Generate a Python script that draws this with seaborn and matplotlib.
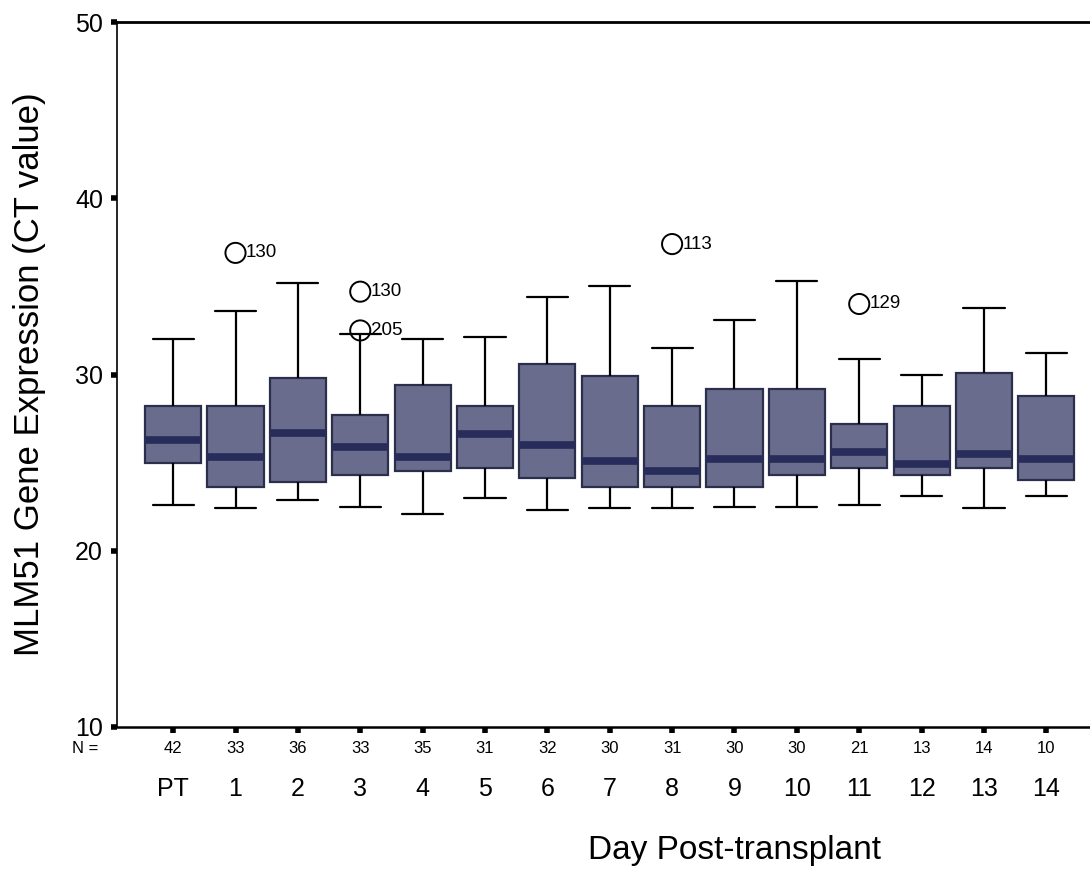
import numpy as np
import pandas as pd
import matplotlib
matplotlib.use("Agg")
import matplotlib.pyplot as plt
import seaborn as sns

# ---- data ----
days = ["PT", "1", "2", "3", "4", "5", "6", "7", "8", "9", "10", "11", "12", "13", "14"]
n_counts = [42, 33, 36, 33, 35, 31, 32, 30, 31, 30, 30, 21, 13, 14, 10]
whisker_low = [22.6, 22.4, 22.9, 22.5, 22.1, 23.0, 22.3, 22.4, 22.4, 22.5, 22.5, 22.6, 23.1, 22.4, 23.1]
q1 = [25.0, 23.6, 23.9, 24.3, 24.5, 24.7, 24.1, 23.6, 23.6, 23.6, 24.3, 24.7, 24.3, 24.7, 24.0]
median = [26.3, 25.3, 26.7, 25.9, 25.3, 26.6, 26.0, 25.1, 24.5, 25.2, 25.2, 25.6, 24.9, 25.5, 25.2]
q3 = [28.2, 28.2, 29.8, 27.7, 29.4, 28.2, 30.6, 29.9, 28.2, 29.2, 29.2, 27.2, 28.2, 30.1, 28.8]
whisker_high = [32.0, 33.6, 35.2, 32.3, 32.0, 32.1, 34.4, 35.0, 31.5, 33.1, 35.3, 30.9, 30.0, 33.8, 31.2]

outlier_day = ["1", "3", "3", "8", "11"]
outlier_value = [36.9, 34.7, 32.5, 37.4, 34.0]
outlier_label = ["130", "130", "205", "113", "129"]

# five-number rows per day -> boxes (linear quartiles of 5 values hit q1/median/q3 exactly)
rows = []
for d, lo, a, m, b, hi in zip(days, whisker_low, q1, median, q3, whisker_high):
    for v in (lo, a, m, b, hi):
        rows.append({"day": d, "value": v})
df = pd.DataFrame(rows)

sns.set_style("white")
plt.rcParams["font.family"] = ["Liberation Sans", "DejaVu Sans"]
for k in ["text.color", "axes.labelcolor", "xtick.color", "ytick.color"]:
    plt.rcParams[k] = "black"

fig = plt.figure(figsize=(10.9, 8.93), dpi=100)
ax = fig.add_axes([117 / 1090, 1 - 727 / 893, 973 / 1090, 705 / 893])

box_fill = "#696c8c"
box_edge = "#2c2f4c"
sns.boxplot(
    data=df, x="day", y="value", order=days, ax=ax,
    whis=(0, 100), width=0.9, showfliers=False,
    color=box_fill, saturation=1,
    boxprops=dict(facecolor=box_fill, edgecolor=box_edge, linewidth=1.6),
    medianprops=dict(color="#272c5a", linewidth=5.5, solid_capstyle="butt"),
    whiskerprops=dict(color="black", linewidth=1.6),
    capprops=dict(color="black", linewidth=1.6),
    capwidths=0.66,
)

# outliers
out_x = [days.index(d) for d in outlier_day]
sns.scatterplot(x=out_x, y=outlier_value, ax=ax, marker="o", s=210,
                fc="none", ec="black", linewidth=1.4, zorder=5, legend=False)
for x, y, lbl in zip(out_x, outlier_value, outlier_label):
    ax.annotate(lbl, (x, y), xytext=(7.5, 0), textcoords="offset points",
                ha="left", va="center", fontsize=13.5)

ax.set_xlim(-0.9, 14.7)
ax.set_ylim(10, 50)
ax.set_yticks([10, 20, 30, 40, 50])
ax.set_xticks(range(len(days)))
ax.set_xticklabels(days)

for s in ["left", "bottom", "top"]:
    ax.spines[s].set_visible(True)
    ax.spines[s].set_color("black")
ax.spines["right"].set_visible(False)
ax.spines["left"].set_linewidth(1.2)
ax.spines["bottom"].set_linewidth(1.8)
ax.spines["top"].set_linewidth(2.0)

ax.tick_params(axis="y", direction="out", length=4, width=4, labelsize=18, pad=6, left=True)
ax.tick_params(axis="x", direction="out", length=4, width=4, labelsize=18, pad=32, bottom=True)

# N row
for i, n in enumerate(n_counts):
    ax.annotate(str(n), xy=(i, 0), xycoords=ax.get_xaxis_transform(),
                xytext=(0, -15.5), textcoords="offset points",
                ha="center", va="center", fontsize=12)
ax.annotate("N =", xy=(0, 0), xycoords="axes fraction",
            xytext=((85 - 117) * 0.72, -15.5), textcoords="offset points",
            ha="center", va="center", fontsize=12)

ax.set_xlabel("Day Post-transplant", fontsize=24)
ax.xaxis.set_label_coords((735 - 117) / 973, (727 - 850) / 705)
ax.xaxis.label.set_va("center")
ax.set_ylabel("MLM51 Gene Expression (CT value)", fontsize=25)
ax.yaxis.set_label_coords((30 - 117) / 973, 0.5)
ax.yaxis.label.set_va("center")

fig.savefig("out.png", dpi=100)
